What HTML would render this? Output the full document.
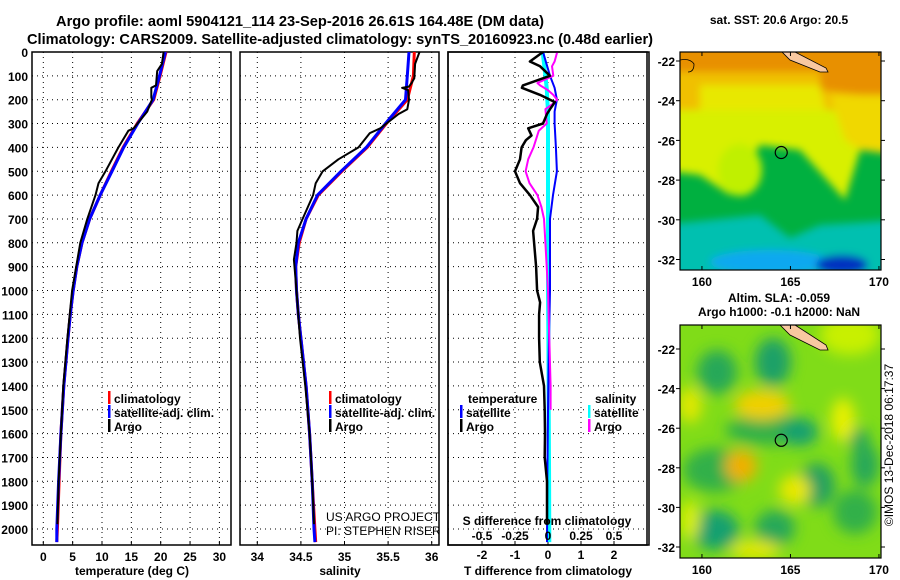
<!DOCTYPE html>
<html><head><meta charset="utf-8"><style>
html,body{margin:0;padding:0;background:#fff;}
svg{display:block;font-family:"Liberation Sans",sans-serif;}
.b{font-weight:bold;font-size:12px;}
</style></head><body>
<svg id="fig" width="900" height="580" viewBox="0 0 900 580" xmlns="http://www.w3.org/2000/svg">
<defs>
<clipPath id="c1"><rect x="32" y="52" width="199" height="493"/></clipPath>
<clipPath id="c2"><rect x="240" y="52" width="199" height="493"/></clipPath>
<clipPath id="c3"><rect x="448" y="52" width="201" height="493"/></clipPath>
<clipPath id="cm1"><rect x="680" y="52" width="201" height="218"/></clipPath>
<clipPath id="cm2"><rect x="680" y="325" width="201" height="233"/></clipPath>
<filter id="blur1"><feGaussianBlur stdDeviation="4"/></filter>
<filter id="blur2"><feGaussianBlur stdDeviation="7"/></filter>
</defs>
<text x="300" y="26" text-anchor="middle" font-weight="bold" font-size="15" textLength="488" lengthAdjust="spacingAndGlyphs">Argo profile: aoml 5904121_114 23-Sep-2016 26.61S 164.48E (DM data)</text>
<text x="340" y="44" text-anchor="middle" font-weight="bold" font-size="15" textLength="626" lengthAdjust="spacingAndGlyphs">Climatology: CARS2009. Satellite-adjusted climatology: synTS_20160923.nc (0.48d earlier)</text>
<g id="g1"></g>
<g id="g2"></g>
<g id="g3"></g>
<g id="maps"></g>
</svg>
<script>
// ---- data ----
const depthTicks=[0,100,200,300,400,500,600,700,800,900,1000,1100,1200,1300,1400,1500,1600,1700,1800,1900,2000];
const tempTicks=[0,5,10,15,20,25,30];
const salTicks=[34,34.5,35,35.5,36];
const salTickLabels=['34','34.5','35','35.5','36'];
const tdTicks=[-2,-1,0,1,2];
const sdTicks=[-0.5,-0.25,0,0.25,0.5];
const sdTickLabels=['-0.5','-0.25','0','0.25','0.5'];

const climDepth=[0,100,200,300,400,500,600,700,800,900,1000,1100,1200,1400,1600,1800,2000,2055];
const climTemp=[20.9,19.9,18.8,16.0,13.6,11.6,9.7,7.9,6.6,5.7,5.1,4.6,4.2,3.5,3.0,2.7,2.4,2.3];
const satTemp=[20.8,19.8,18.7,16.1,13.7,11.7,9.7,7.9,6.6,5.7,5.1,4.6,4.2,3.5,3.0,2.6,2.3,2.3];
const climSal=[35.80,35.79,35.72,35.48,35.26,34.97,34.70,34.56,34.48,34.44,34.45,34.47,34.50,34.56,34.60,34.63,34.66,34.67];
const satSal=[35.74,35.72,35.70,35.47,35.25,34.96,34.69,34.56,34.47,34.44,34.45,34.47,34.50,34.56,34.60,34.63,34.65,34.66];

const argoDepth=[0,50,80,140,150,190,200,250,320,330,400,500,550,600,700,800,1000,1200,1400,1600,1800,1980];
const argoTemp=[20.5,20.2,19.4,19.2,18.4,18.4,18.5,17.7,15.4,14.5,12.8,10.6,9.4,8.9,7.5,6.3,4.9,4.1,3.4,3.0,2.6,2.4];
const argoSalDepth=[0,50,110,130,145,150,160,200,240,260,320,340,400,450,500,550,600,700,750,800,870,1000,1200,1400,1600,1800,1980];
const argoSal=[35.86,35.81,35.80,35.77,35.74,35.66,35.73,35.74,35.72,35.62,35.41,35.29,35.16,34.93,34.75,34.67,34.64,34.52,34.46,34.45,34.42,34.45,34.49,34.55,34.60,34.63,34.65];

const dDepth=[0,40,60,100,140,150,180,210,240,260,300,320,350,370,400,450,500,550,600,650,700,750,800,900,1000,1050,1100,1200,1300,1400,1500,1600,1700,1800,1900,1980];
const argoTdiff=[-0.15,-0.55,-0.24,0.06,-0.76,-0.79,-0.24,0.21,0.06,-0.03,-0.15,-0.6,-0.5,-0.67,-0.8,-0.85,-1.0,-0.85,-0.55,-0.3,-0.33,-0.45,-0.42,-0.36,-0.33,-0.24,-0.27,-0.27,-0.25,-0.12,-0.1,-0.09,-0.1,-0.03,-0.03,-0.03];
const sDepth=[0,40,60,100,130,140,160,180,200,220,240,300,330,400,450,500,550,600,650,700,800,900,1000,1200,1400,1500];
const argoSdiff=[0.07,0.05,0.03,0.04,-0.08,-0.06,0,0.04,0.07,0.03,-0.02,-0.01,-0.07,-0.11,-0.15,-0.17,-0.14,-0.08,-0.05,-0.03,-0.02,-0.01,0,0.01,0.02,0.02];
const satDepth=[0,100,150,200,250,300,400,500,600,700,800,1000,1200,1500,1800,2055];
const satTdiff=[-0.15,0.06,0.2,0.27,0.2,0.2,0.24,0.27,0.15,0.06,0.06,0.06,0.03,0.0,-0.02,-0.03];
const satSdiff=[-0.04,-0.02,-0.01,-0.005,0,0,0,0,0,0,0,0,0.003,0.005,0.008,0.01];

// ---- scales ----
const yD=d=>52+d*0.2385;
const xT=t=>43.3+t*5.87;
const xS=s=>257.3+(s-34)*87.2;
const xTd=t=>548+t*33;
const xSd=s=>548+s*132;

const NS='http://www.w3.org/2000/svg';
function mk(tag,attrs,parent){const e=document.createElementNS(NS,tag);for(const k in attrs)e.setAttribute(k,attrs[k]);parent.appendChild(e);return e;}
function pathOf(xs,ds,fx){return xs.map((v,i)=>(i?'L':'M')+fx(v).toFixed(1)+','+yD(ds[i]).toFixed(1)).join('');}

function panel(g,x0,clip,vt,fx,labels,title,tickY){
  depthTicks.forEach(d=>{const l=mk('line',{x1:x0,x2:x0+199,y1:yD(d),y2:yD(d),stroke:'#000','stroke-dasharray':'1,4','stroke-width':1},g);
    
    });
  vt.forEach((v,i)=>{const l=mk('line',{x1:fx(v),x2:fx(v),y1:52,y2:545,stroke:'#000','stroke-dasharray':'1,4','stroke-width':1},g);
    
    
    mk('line',{x1:fx(v),x2:fx(v),y1:545,y2:541,stroke:'#000'},g);
    if(labels){const t=mk('text',{x:fx(v),y:tickY,'text-anchor':'middle',class:'b'},g);t.textContent=labels[i];
      
      }
  });
  const r=mk('rect',{x:x0,y:52,width:199,height:493,fill:'none',stroke:'#000','stroke-width':1.5},g);
  
  
  if(title){const t=mk('text',{x:x0+100,y:575,'text-anchor':'middle',class:'b'},g);t.textContent=title;
    
    }
}
function line(g,xs,ds,fx,col,w,clip,name){const p=mk('path',{d:pathOf(xs,ds,fx),fill:'none',stroke:col,'stroke-width':w,'clip-path':'url(#'+clip+')','stroke-linejoin':'round'},g);
  
  }
function legend(g,x,y,col,txt){mk('rect',{x:x,y:y-7,width:2.5,height:13,fill:col},g);
  const t=mk('text',{x:x+6,y:y+5,class:'b'},g);t.textContent=txt;
  
  }

const g1=document.getElementById('g1'),g2=document.getElementById('g2'),g3=document.getElementById('g3');
panel(g1,32,'c1',tempTicks,xT,tempTicks.map(String),'temperature (deg C)',561);
depthTicks.forEach(d=>{const t=mk('text',{x:28,y:yD(d)+5,'text-anchor':'end',class:'b'},g1);t.textContent=d;
  
  });
line(g1,climTemp,climDepth,xT,'#f00',3,'c1','climatology-temperature-line');
line(g1,satTemp,climDepth,xT,'#00f',3,'c1','satellite-temperature-line');
line(g1,argoTemp,argoDepth,xT,'#000',2,'c1','argo-temperature-line');
legend(g1,108,398,'#f00','climatology');legend(g1,108,412,'#00f','satellite-adj. clim.');legend(g1,108,426,'#000','Argo');

panel(g2,240,'c2',salTicks,xS,salTickLabels,'salinity',561);
line(g2,climSal,climDepth,xS,'#f00',3,'c2','climatology-salinity-line');
line(g2,satSal,climDepth,xS,'#00f',3,'c2','satellite-salinity-line');
line(g2,argoSal,argoSalDepth,xS,'#000',2,'c2','argo-salinity-line');
legend(g2,329,398,'#f00','climatology');legend(g2,329,412,'#00f','satellite-adj. clim.');legend(g2,329,426,'#000','Argo');
[['US ARGO PROJECT',517],['PI: STEPHEN RISER',531]].forEach(a=>{const t=mk('text',{x:326,y:a[1]+4,'font-size':12,'clip-path':'url(#c2)'},g2);t.textContent=a[0];
  
  });

panel(g3,448,'c3',tdTicks,xTd,tdTicks.map(String),'T difference from climatology',559);
line(g3,satSdiff,satDepth,xSd,'#0ff',4,'c3','satellite-salinity-diff-line');
line(g3,satTdiff,satDepth,xTd,'#00f',2,'c3','satellite-temperature-diff-line');
line(g3,argoSdiff,sDepth,xSd,'#f0f',2,'c3','argo-salinity-diff-line');
line(g3,argoTdiff,dDepth,xTd,'#000',2.5,'c3','argo-temperature-diff-line');
mk('rect',{x:448,y:52,width:201,height:493,fill:'none',stroke:'#000','stroke-width':1.5},g3);
sdTicks.forEach((v,i)=>{const t=mk('text',{x:xSd(v),y:540,'text-anchor':'middle',class:'b'},g3);t.textContent=sdTickLabels[i];
  
  });
{const t=mk('text',{x:547,y:525,'text-anchor':'middle',class:'b'},g3);t.textContent='S difference from climatology';
 
 }
{const t=mk('text',{x:468,y:403,class:'b'},g3);t.textContent='temperature';
 
 }
{const t=mk('text',{x:595,y:403,class:'b'},g3);t.textContent='salinity';
 
 }
legend(g3,460,412,'#00f','satellite');legend(g3,460,426,'#000','Argo');
legend(g3,588,412,'#0ff','satellite');legend(g3,588,426,'#f0f','Argo');

// ---- maps ----
const lonTicks=[160,165,170];
const latTicks=[-22,-24,-26,-28,-30,-32];
const mx=lon=>680+(lon-158.76)*17.7;
const my1=lat=>61+(-22-lat)*19.85;
const my2=lat=>349+(-22-lat)*19.8;
const M=document.getElementById('maps');
function mtext(x,y,s,anchor,name){const t=mk('text',{x:x,y:y,'text-anchor':anchor,class:'b'},M);t.textContent=s;
  
  }
mtext(779,24,'sat. SST: 20.6 Argo: 20.5','middle','sst-map-title');
mtext(779,302,'Altim. SLA: -0.059','middle','sla-map-title');
mtext(779,316,'Argo h1000: -0.1 h2000: NaN','middle','sla-map-subtitle');

// SST map
const s1=mk('g',{'clip-path':'url(#cm1)'},M);


mk('rect',{x:680,y:52,width:201,height:218,fill:'#00b040'},s1);
const sf=mk('g',{filter:'url(#blur1)'},s1);
mk('rect',{x:660,y:40,width:240,height:90,fill:'#f0c000'},sf);
mk('rect',{x:660,y:40,width:240,height:32,fill:'#e89000'},sf);
mk('polygon',{points:'820,60 900,60 900,100 820,90',fill:'#e89000'},sf);
mk('polygon',{points:'700,85 820,85 830,130 700,130',fill:'#e8e800'},sf);
mk('polygon',{points:'660,110 900,110 900,155 860,150 845,200 800,150 760,145 730,195 700,175 660,170',fill:'#d8f000'},sf);
mk('polygon',{points:'830,95 900,95 900,155 860,150 845,140',fill:'#f0d800'},sf);
mk('ellipse',{cx:740,cy:170,rx:22,ry:26,fill:'#c0f000'},sf);
mk('polygon',{points:'660,225 760,215 790,238 820,225 900,220 900,290 660,290',fill:'#00c0b0'},sf);
mk('ellipse',{cx:770,cy:262,rx:60,ry:12,fill:'#10a8f0'},sf);
mk('ellipse',{cx:842,cy:265,rx:26,ry:10,fill:'#0030c0'},sf);
mk('polygon',{points:'782,52 795,52 826,68 828,72 820,72 790,60',fill:'#f8c8a0',stroke:'#000','stroke-width':0.8},s1);
mk('circle',{cx:mx(164.48),cy:my1(-26.61),r:6,fill:'none',stroke:'#000','stroke-width':1.2},s1);
mk('path',{d:'M680,60 Q690,58 694,64 Q694,72 688,72',fill:'none',stroke:'#000','stroke-width':0.8},s1);

// SLA map
const s2=mk('g',{'clip-path':'url(#cm2)'},M);


mk('rect',{x:680,y:325,width:201,height:233,fill:'#80dc18'},s2);
const lf=mk('g',{filter:'url(#blur2)'},s2);
[[717,372,20,22,'#28a858'],[773,362,18,24,'#1aa068'],[770,430,45,15,'#30b048'],[800,432,18,14,'#18a070'],[715,470,32,22,'#30b048'],[817,485,18,22,'#20a060'],[865,465,14,22,'#28a858'],[715,530,24,20,'#18a070'],[775,528,20,18,'#28a858'],[855,512,22,22,'#30b048'],[858,438,12,10,'#28a858']].forEach(e=>mk('ellipse',{cx:e[0],cy:e[1],rx:e[2],ry:e[3],fill:e[4]},lf));
[[762,405,28,15,'#f0d000'],[741,466,16,16,'#f0b000'],[690,405,12,18,'#e0e800'],[795,490,16,15,'#e8e800'],[843,420,12,22,'#e8f000'],[755,550,25,10,'#e0e800'],[850,335,30,20,'#c8f000'],[690,520,10,20,'#d8f000']].forEach(e=>mk('ellipse',{cx:e[0],cy:e[1],rx:e[2],ry:e[3],fill:e[4]},lf));
mk('polygon',{points:'780,325 795,325 826,345 828,350 820,350 790,335',fill:'#f8c8a0',stroke:'#000','stroke-width':0.8},s2);
mk('circle',{cx:mx(164.48),cy:my2(-26.61),r:6,fill:'none',stroke:'#000','stroke-width':1.2},s2);

[[52,270,my1],[325,558,my2]].forEach(m=>{
  const r=mk('rect',{x:680,y:m[0],width:201,height:m[1]-m[0],fill:'none',stroke:'#000','stroke-width':1.2},M);
  
  
  lonTicks.forEach(v=>{mk('line',{x1:mx(v),x2:mx(v),y1:m[0],y2:m[0]+4,stroke:'#000'},M);mk('line',{x1:mx(v),x2:mx(v),y1:m[1],y2:m[1]-4,stroke:'#000'},M);
    mtext(mx(v),m[1]+16,String(v),'middle','lon-tick-label');});
  latTicks.forEach(v=>{mk('line',{x1:881,x2:885,y1:m[2](v),y2:m[2](v),stroke:'#000'},M);mk('line',{x1:680,x2:676,y1:m[2](v),y2:m[2](v),stroke:'#000'},M);
    mtext(675,m[2](v)+5,String(v),'end','lat-tick-label');});
});
{const t=mk('text',{x:0,y:0,'font-size':12,'text-anchor':'middle',transform:'translate(893,445) rotate(-90)'},M);t.textContent='©IMOS 13-Dec-2018 06:17:37';
 
 }
</script>
</body></html>
